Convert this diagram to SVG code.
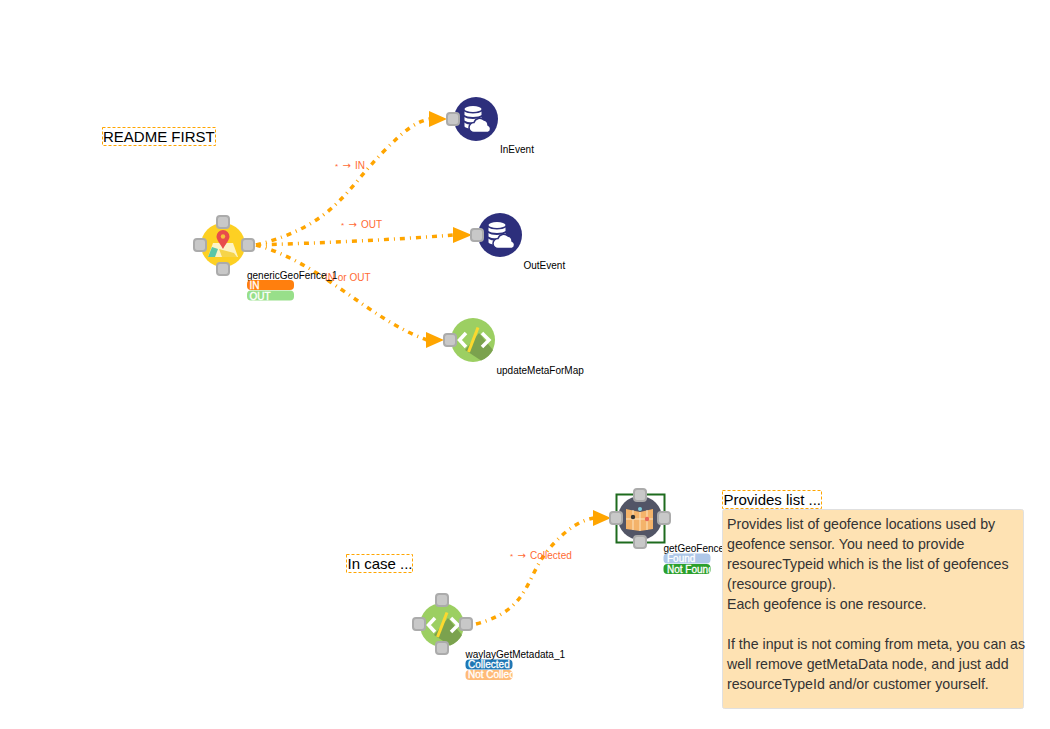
<svg xmlns="http://www.w3.org/2000/svg" width="1050" height="729" viewBox="0 0 1050 729">
<style>
text{font-family:"Liberation Sans",Arial,sans-serif}
.edge{fill:none;stroke:#ffa500;stroke-width:3.500;stroke-dasharray:5 5 1 5}
.head{fill:#ffa500}
.lbl{font-size:10px;fill:#ff6a33}
.arr{font-family:"DejaVu Sans",sans-serif}
.name{font-size:10px;fill:#000}
.tag{font-size:10px;fill:#fff;stroke:#fff;stroke-width:.3}
.port{fill:#c8c8c8;stroke:#ababab;stroke-width:2}
.note{fill:#fff;stroke:#ffa500;stroke-width:1;stroke-dasharray:3 2}
.notet{font-size:15px;fill:#000}
.tip{font-size:14.2px;fill:#333}
.db{fill:#2d2f7c}
.w{fill:#fff}
</style>
<defs>
<g id="dbicon">
<circle r="22" class="db"/>
<ellipse cx="-3" cy="-10" rx="8.500" ry="3" class="w"/>
<path class="w" d="M-11.500-7.500c2 2.500 15 2.500 17 0v3.500c-2 2.500-15 2.500-17 0zM-11.500-2c2 2.500 15 2.500 17 0v3.500c-2 2.500-15 2.500-17 0zM-11.500 3.500c2 2.500 10 2.500 12 1.500v3.500c-3 1.500-10 1.500-12-1z"/>
<path class="w" stroke="#2d2f7c" stroke-width="1.500" d="M-2 13.500a5 5 0 0 1 0-10a6 6 0 0 1 10-2.500a5 5 0 0 1 4 5a4 4 0 0 1 0 7.500z"/>
</g>
<g id="codeicon">
<circle r="22" fill="#9ccf62"/>
<path fill="#7ba24e" d="M6-7L20 10A22 22 0 0 1 8 20.500L-8 10z"/>
<path fill="none" stroke="#fff" stroke-width="3.500" d="M-7-7L-13.500 0L-7 7M9-7L16 0L9 7"/>
<path stroke="#fbd92f" stroke-width="3" d="M5-12.500L-4.500 12"/>
</g>
<rect id="p" x="-6" y="-6" width="12" height="12" rx="3" class="port"/>
</defs>

<g id="connectors">
<path class="edge" d="M256 245C335 225 345 190 385 150C405 130 415 122 430 119"/>
<path class="edge" d="M256 245C320 243 390 240 454 235"/>
<path class="edge" d="M256 245C320 262 370 320 427 340"/>
<path class="edge" d="M476 624C530 610 525 578 548 550C565 530 580 520 594 518"/>
<polygon class="head" points="429,111 447,119 429,127"/>
<polygon class="head" points="453,227 472,235 453,243"/>
<polygon class="head" points="426,332 444,340 426,348"/>
<polygon class="head" points="593,510 611,518 593,526"/>
<text class="lbl" x="335" y="169"><tspan font-size="8">*</tspan> <tspan class="arr" dx="1.500">→</tspan> <tspan dx="1.500">IN</tspan></text>
<text class="lbl" x="341" y="228"><tspan font-size="8">*</tspan> <tspan class="arr" dx="1.500">→</tspan> <tspan dx="1.500">OUT</tspan></text>
<text class="lbl" x="325" y="281">IN or OUT</text>
<text class="lbl" x="510" y="559"><tspan font-size="8">*</tspan> <tspan class="arr" dx="1.500">→</tspan> <tspan dx="1.500">Collected</tspan></text>
</g>

<g id="readme"><rect class="note" x="102.500" y="127.500" width="113" height="18"/><text class="notet" x="103" y="141.500">README FIRST</text></g>

<g id="genericGeoFence_1">
<circle cx="223" cy="245" r="22" fill="#fdd023"/>
<path fill="#fdf3c4" d="M213 243H233L238 257H208z"/>
<path fill="#5cc6a6" d="M212 247L218 249L215 257H208z"/>
<path fill="#f6d44a" d="M219 249L234 253L237 257H222z"/>
<path fill="#e84c4b" d="M223 230a6.500 6.500 0 0 1 6.500 6.500C229.500 240 225 245 223 249C221 245 216.500 240 216.500 236.500A6.500 6.500 0 0 1 223 230z"/>
<circle cx="223" cy="236.500" r="2.200" fill="#f6c23a"/>
<use href="#p" x="223" y="222"/><use href="#p" x="223" y="269"/><use href="#p" x="200" y="245"/><use href="#p" x="248" y="245"/>
<text class="name" x="247" y="279">genericGeoFence_1</text>
<rect x="247" y="280" width="47" height="10" rx="4" fill="#ff7f0e"/><text class="tag" x="249.500" y="289">IN</text>
<rect x="247" y="290.500" width="47" height="10" rx="4" fill="#98df8a"/><text class="tag" x="249.500" y="299.500">OUT</text>
</g>

<g id="InEvent"><use href="#dbicon" x="476" y="119"/><use href="#p" x="453" y="119"/><text class="name" x="500" y="153">InEvent</text></g>
<g id="OutEvent"><use href="#dbicon" x="500" y="235"/><use href="#p" x="477" y="235"/><text class="name" x="523.500" y="269">OutEvent</text></g>
<g id="updateMetaForMap"><use href="#codeicon" x="473" y="340"/><use href="#p" x="450" y="340"/><text class="name" x="496.500" y="374">updateMetaForMap</text></g>

<g id="note-incase"><rect class="note" x="346.500" y="554.500" width="66" height="18"/><text class="notet" x="347.500" y="569">In case ...</text></g>

<g id="waylayGetMetadata_1">
<use href="#codeicon" x="442" y="625"/>
<use href="#p" x="442" y="600"/><use href="#p" x="442" y="648"/><use href="#p" x="419" y="624"/><use href="#p" x="466" y="624"/>
<text class="name" x="465.500" y="658">waylayGetMetadata_1</text>
<rect x="465.500" y="659.500" width="47" height="10" rx="4" fill="#1f77b4"/><text class="tag" x="468" y="668">Collected</text>
<rect x="465.500" y="670" width="47" height="10" rx="4" fill="#ffbb78"/>
<svg x="465" y="668" width="47" height="14"><text class="tag" x="3" y="10">Not Collected</text></svg>
</g>

<g id="getGeoFences">
<rect x="616.500" y="494.500" width="48" height="48" fill="none" stroke="#1e6b1e" stroke-width="2"/>
<circle cx="640" cy="518" r="22" fill="#525566"/>
<path fill="#f4b36a" d="M626 509L640 512L653 509V529L640 531L626 529z"/>
<path stroke="#fde4c0" stroke-width="1" fill="none" d="M640 512V531M633 510V530M647 510V530M626 519H653"/>
<circle cx="633" cy="517" r="2.200" fill="#333"/><circle cx="647" cy="519" r="2.200" fill="#e8675a"/><circle cx="640" cy="509" r="2" fill="#7fd0e0"/>
<use href="#p" x="640" y="495"/><use href="#p" x="640" y="542"/><use href="#p" x="616" y="518"/><use href="#p" x="664" y="518"/>
<svg x="660" y="540" width="64" height="14"><text class="name" x="3.500" y="12">getGeoFences</text></svg>
<rect x="663.500" y="553.500" width="47" height="10" rx="4" fill="#aec7e8"/><text class="tag" x="667" y="562">Found</text>
<rect x="663.500" y="564" width="47" height="10" rx="4" fill="#2ca02c"/>
<svg x="663" y="562" width="47" height="14"><text class="tag" x="4" y="10.500">Not Found</text></svg>
</g>

<g id="note-provides">
<rect class="note" x="722.500" y="490.500" width="99" height="18"/><text class="notet" x="723.500" y="505">Provides list ...</text>
<rect x="722.500" y="509.500" width="301" height="199" rx="2" fill="#fee2b3" stroke="#e0e0e0"/>
<text class="tip" x="727" y="529">Provides list of geofence locations used by</text>
<text class="tip" x="727" y="549">geofence sensor. You need to provide</text>
<text class="tip" x="727" y="569">resourecTypeid which is the list of geofences</text>
<text class="tip" x="727" y="589">(resource group).</text>
<text class="tip" x="727" y="609">Each geofence is one resource.</text>
<text class="tip" x="727" y="649">If the input is not coming from meta, you can as</text>
<text class="tip" x="727" y="669">well remove getMetaData node, and just add</text>
<text class="tip" x="727" y="689">resourceTypeId and/or customer yourself.</text>
</g>
</svg>
